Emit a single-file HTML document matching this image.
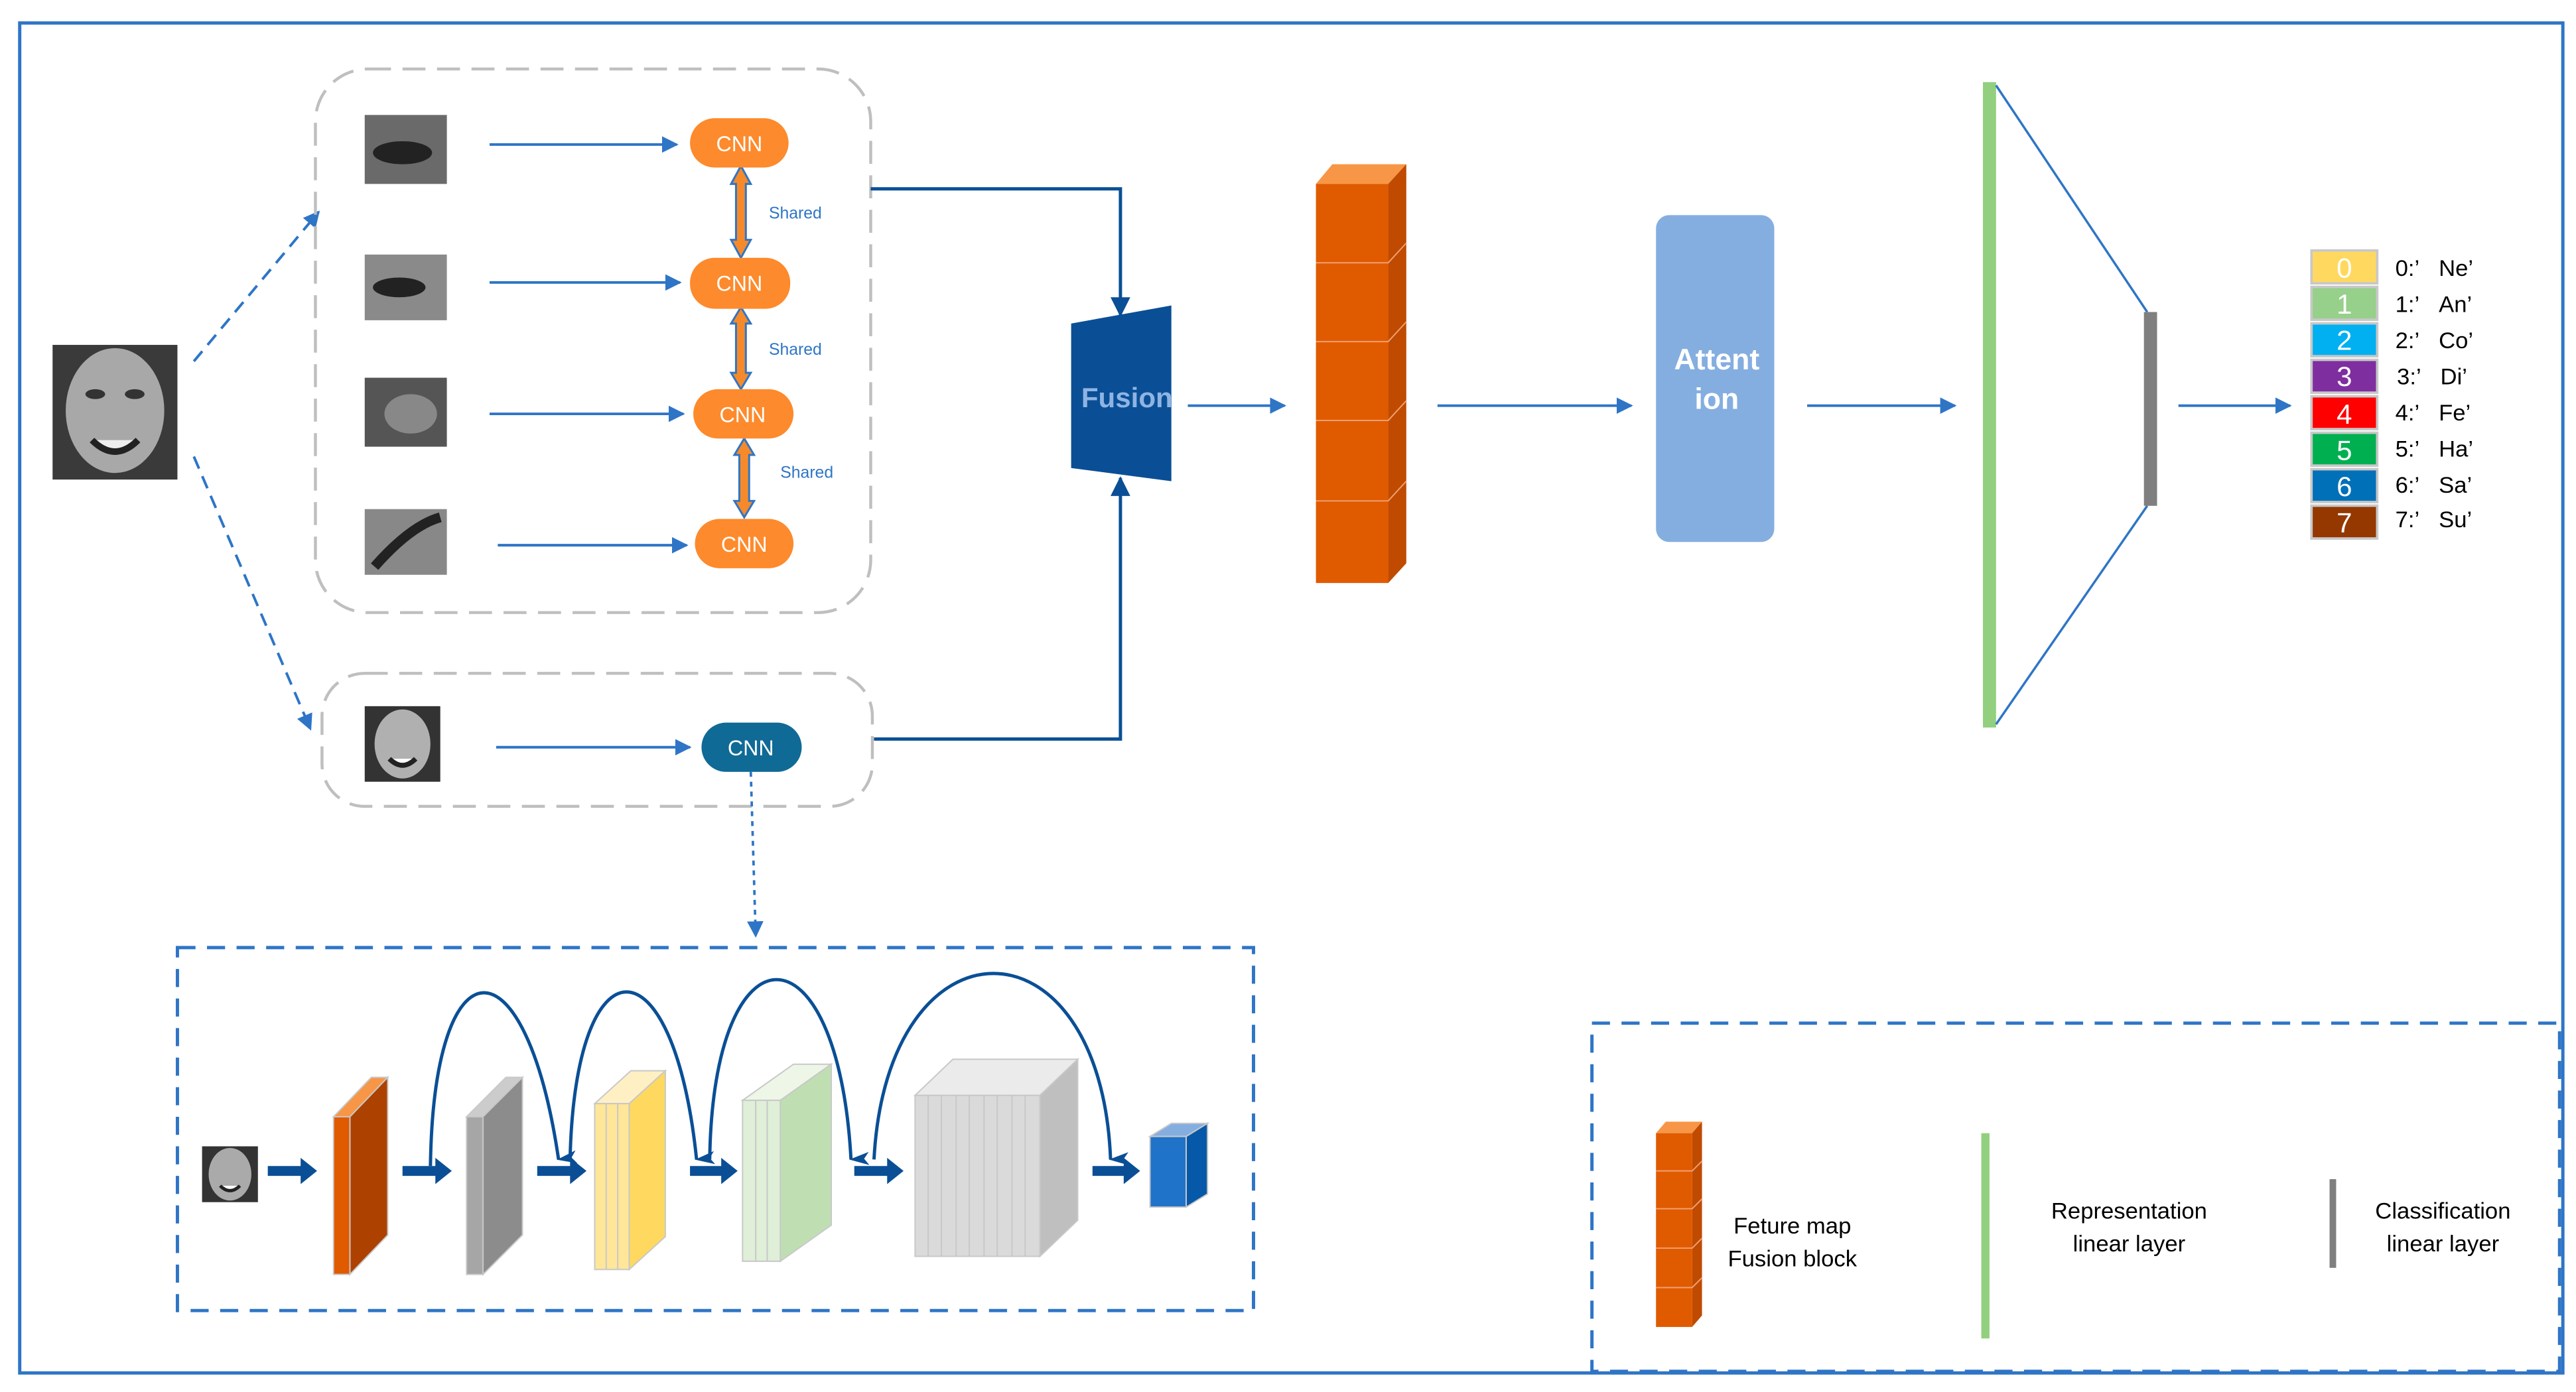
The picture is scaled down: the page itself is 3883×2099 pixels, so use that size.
<!DOCTYPE html>
<html><head><meta charset="utf-8"><style>html,body{margin:0;padding:0;background:#fff}svg{display:block}</style></head><body>
<svg width="3883" height="2099" viewBox="0 0 1568 847.6" preserveAspectRatio="none" xmlns="http://www.w3.org/2000/svg" font-family="Liberation Sans, sans-serif">
<defs>
<marker id="ah" markerWidth="10" markerHeight="10" refX="9" refY="5" orient="auto" markerUnits="userSpaceOnUse"><path d="M0,0 L10,5 L0,10 Z" fill="#2e75c6"/></marker>
<marker id="ah2" markerWidth="12" markerHeight="12" refX="11" refY="6" orient="auto" markerUnits="userSpaceOnUse"><path d="M0,0 L12,6 L0,12 Z" fill="#0a4f96"/></marker>
<marker id="ahd" markerWidth="8" markerHeight="12" refX="4" refY="11" orient="auto" markerUnits="userSpaceOnUse"><path d="M0,0 L4,12 L8,0 L4,3Z" fill="#0a4f96"/></marker>
</defs>
<rect x="12" y="14" width="1548" height="822" fill="none" stroke="#2e75c6" stroke-width="2"/>
<!-- face -->
<rect x="32" y="210" width="76" height="82" fill="#3a3a3a"/>
<ellipse cx="70" cy="250" rx="30" ry="38" fill="#a8a8a8"/>
<ellipse cx="58" cy="240" rx="6" ry="3" fill="#333"/><ellipse cx="82" cy="240" rx="6" ry="3" fill="#333"/>
<path d="M56,268 Q70,282 84,268" stroke="#222" stroke-width="4" fill="#eee"/>
<line x1="118" y1="220" x2="194" y2="129" stroke="#2e75c6" stroke-width="1.6" stroke-dasharray="8,5" marker-end="url(#ah)"/>
<line x1="118" y1="278" x2="189" y2="444" stroke="#2e75c6" stroke-width="1.6" stroke-dasharray="8,5" marker-end="url(#ah)"/>
<rect x="192" y="42" width="338" height="331" rx="32" fill="none" stroke="#bfbfbf" stroke-width="1.8" stroke-dasharray="14,7"/>
<rect x="196" y="410" width="335" height="81" rx="26" fill="none" stroke="#bfbfbf" stroke-width="1.8" stroke-dasharray="14,7"/>
<!-- patches -->
<rect x="222" y="70" width="50" height="42" fill="#6a6a6a"/><ellipse cx="245" cy="93" rx="18" ry="7" fill="#222"/>
<rect x="222" y="155" width="50" height="40" fill="#8a8a8a"/><ellipse cx="243" cy="175" rx="16" ry="6" fill="#222"/>
<rect x="222" y="230" width="50" height="42" fill="#555"/><ellipse cx="250" cy="252" rx="16" ry="12" fill="#888"/>
<rect x="222" y="310" width="50" height="40" fill="#888"/><path d="M228,345 Q250,320 268,315" stroke="#222" stroke-width="6" fill="none"/>
<rect x="222" y="430" width="46" height="46" fill="#333"/><ellipse cx="245" cy="453" rx="17" ry="21" fill="#b0b0b0"/><path d="M237,462 Q245,470 253,462" stroke="#222" stroke-width="3" fill="#fff"/>
<g stroke="#2e75c6" stroke-width="1.6" marker-end="url(#ah)">
<line x1="298" y1="88" x2="412" y2="88"/><line x1="298" y1="172" x2="414" y2="172"/><line x1="298" y1="252" x2="416" y2="252"/><line x1="303" y1="332" x2="418" y2="332"/><line x1="302" y1="455" x2="420" y2="455"/></g>
<!-- shared arrows -->
<g fill="#f68a2a" stroke="#2e75c6" stroke-width="1.2">
<path d="M445,112 L451,101 L457,112 L454,112 L454,146 L457,146 L451,157 L445,146 L448,146 L448,112Z"/>
<path d="M445,197 L451,187 L457,197 L454,197 L454,227 L457,227 L451,237 L445,227 L448,227 L448,197Z"/>
<path d="M447,277 L453,267 L459,277 L456,277 L456,305 L459,305 L453,315 L447,305 L450,305 L450,277Z"/></g>
<g font-size="10" fill="#2e75c6"><text x="468" y="133">Shared</text><text x="468" y="216">Shared</text><text x="475" y="291">Shared</text></g>
<g fill="#fd8a2c"><rect x="420" y="72" width="60" height="30" rx="15"/><rect x="420" y="157" width="61" height="31" rx="15"/><rect x="422" y="237" width="61" height="30" rx="15"/><rect x="423" y="316" width="60" height="30" rx="15"/></g>
<rect x="427" y="440" width="61" height="30" rx="15" fill="#0f6a96"/>
<g font-size="13" fill="#fff" text-anchor="middle"><text x="450" y="92">CNN</text><text x="450" y="177">CNN</text><text x="452" y="257">CNN</text><text x="453" y="336">CNN</text><text x="457" y="460">CNN</text></g>
<polyline points="530,115 682,115 682,192" fill="none" stroke="#0a4f96" stroke-width="2" marker-end="url(#ah2)"/>
<polyline points="532,450 682,450 682,291" fill="none" stroke="#0a4f96" stroke-width="2" marker-end="url(#ah2)"/>
<polygon points="652,197 713,186 713,293 652,285" fill="#0a4f96"/>
<text x="686" y="248" font-size="17" font-weight="bold" fill="#8fb4e3" text-anchor="middle">Fusion</text>
<g stroke="#2e75c6" stroke-width="1.6" marker-end="url(#ah)"><line x1="723" y1="247" x2="782" y2="247"/><line x1="875" y1="247" x2="993" y2="247"/><line x1="1100" y1="247" x2="1190" y2="247"/><line x1="1326" y1="247" x2="1394" y2="247"/></g>
<!-- orange block -->
<polygon points="801,112 811,100 856,100 845,112" fill="#f79646"/>
<polygon points="845,112 856,100 856,343 845,355" fill="#c04a00"/>
<rect x="801" y="112" width="44" height="243" fill="#e05a00"/>
<g stroke="#f0a070" stroke-width="0.8" fill="none"><polyline points="801,160 845,160 856,148"/><polyline points="801,208 845,208 856,196"/><polyline points="801,256 845,256 856,244"/><polyline points="801,305 845,305 856,293"/></g>
<rect x="1008" y="131" width="72" height="199" rx="8" fill="#85aee0"/>
<text x="1045" y="225" font-size="18" font-weight="bold" fill="#fff" text-anchor="middle">Attent</text>
<text x="1045" y="249" font-size="18" font-weight="bold" fill="#fff" text-anchor="middle">ion</text>
<rect x="1207" y="50" width="8" height="393" fill="#92d07f"/>
<line x1="1215" y1="52" x2="1307" y2="190" stroke="#2e75c6" stroke-width="1.4"/>
<line x1="1215" y1="441" x2="1307" y2="308" stroke="#2e75c6" stroke-width="1.4"/>
<rect x="1305" y="190" width="8" height="118" fill="#7f7f7f"/>
<!-- legend classes -->
<g stroke="#c8c8c8" stroke-width="1.5">
<rect x="1407" y="152.5" width="40" height="20" fill="#ffd95f"/><rect x="1407" y="174.7" width="40" height="20" fill="#96d08a"/><rect x="1407" y="196.9" width="40" height="20" fill="#00b0f0"/><rect x="1407" y="219.1" width="40" height="20" fill="#7f2ea0"/><rect x="1407" y="241.3" width="40" height="20" fill="#ff0000"/><rect x="1407" y="263.5" width="40" height="20" fill="#00b050"/><rect x="1407" y="285.7" width="40" height="20" fill="#0070b8"/><rect x="1407" y="307.9" width="40" height="20" fill="#943800"/></g>
<g font-size="17" fill="#fff" text-anchor="middle"><text x="1427" y="169">0</text><text x="1427" y="191">1</text><text x="1427" y="213">2</text><text x="1427" y="235">3</text><text x="1427" y="258">4</text><text x="1427" y="280">5</text><text x="1427" y="302">6</text><text x="1427" y="324">7</text></g>
<g font-size="14" fill="#000"><text x="1458" y="168">0:’&#160;&#160;&#160;Ne’</text><text x="1458" y="190">1:’&#160;&#160;&#160;An’</text><text x="1458" y="212">2:’&#160;&#160;&#160;Co’</text><text x="1459" y="234">3:’&#160;&#160;&#160;Di’</text><text x="1458" y="256">4:’&#160;&#160;&#160;Fe’</text><text x="1458" y="278">5:’&#160;&#160;&#160;Ha’</text><text x="1458" y="300">6:’&#160;&#160;&#160;Sa’</text><text x="1458" y="321">7:’&#160;&#160;&#160;Su’</text></g>
<!-- bottom CNN detail -->
<line x1="457" y1="470" x2="460" y2="570" stroke="#2e75c6" stroke-width="1.5" stroke-dasharray="3,3" marker-end="url(#ah)"/>
<rect x="108" y="577" width="655" height="221" fill="none" stroke="#2e75c6" stroke-width="2" stroke-dasharray="11,7"/>
<rect x="123" y="698" width="34" height="34" fill="#333"/><ellipse cx="140" cy="715" rx="13" ry="16" fill="#aaa"/><path d="M134,722 Q140,728 146,722" stroke="#222" stroke-width="2" fill="#fff"/>
<g stroke="#c8c8c8" stroke-width="0.8">
<polygon points="203,680 213,680 236,656 226,656" fill="#f79646"/><polygon points="213,680 236,656 236,752 213,776" fill="#ad4100"/><rect x="203" y="680" width="10" height="96" fill="#e05a00"/>
<polygon points="284,680 294,680 318,656 308,656" fill="#cccccc"/><polygon points="294,680 318,656 318,752 294,776" fill="#8c8c8c"/><rect x="284" y="680" width="10" height="96" fill="#a6a6a6"/>
<polygon points="362,672 383,672 405,652 384,652" fill="#fff0c4"/><polygon points="383,672 405,652 405,753 383,773" fill="#ffd85f"/><rect x="362" y="672" width="21" height="101" fill="#ffe699"/><line x1="369" y1="672" x2="369" y2="773"/><line x1="376" y1="672" x2="376" y2="773"/>
<polygon points="452,670 475,670 506,648 483,648" fill="#eef6e8"/><polygon points="475,670 506,648 506,746 475,768" fill="#bfdfb3"/><rect x="452" y="670" width="23" height="98" fill="#dfefd8"/><line x1="460" y1="670" x2="460" y2="768"/><line x1="467" y1="670" x2="467" y2="768"/>
<polygon points="557,667 633,667 656,645 580,645" fill="#ebebeb"/><polygon points="633,667 656,645 656,743 633,765" fill="#bfbfbf"/><rect x="557" y="667" width="76" height="98" fill="#dadada"/>
<polygon points="700,692 722,692 735,684 713,684" fill="#85aee0"/><polygon points="722,692 735,684 735,727 722,735" fill="#0659a8"/><rect x="700" y="692" width="22" height="43" fill="#1f73c9"/></g>
<g stroke="#c8c8c8" stroke-width="0.8"><line x1="565" y1="667" x2="565" y2="765"/><line x1="573" y1="667" x2="573" y2="765"/><line x1="582" y1="667" x2="582" y2="765"/><line x1="590" y1="667" x2="590" y2="765"/><line x1="599" y1="667" x2="599" y2="765"/><line x1="607" y1="667" x2="607" y2="765"/><line x1="616" y1="667" x2="616" y2="765"/><line x1="624" y1="667" x2="624" y2="765"/></g>
<g fill="#0a4f96"><path d="M163,710 h20 v-5 l10,8 l-10,8 v-5 h-20z"/><path d="M245,710 h20 v-5 l10,8 l-10,8 v-5 h-20z"/><path d="M327,710 h20 v-5 l10,8 l-10,8 v-5 h-20z"/><path d="M420,710 h19 v-5 l10,8 l-10,8 v-5 h-19z"/><path d="M520,710 h20 v-5 l10,8 l-10,8 v-5 h-20z"/><path d="M665,710 h19 v-5 l10,8 l-10,8 v-5 h-19z"/></g>
<g fill="none" stroke="#0a4f96" stroke-width="2" marker-end="url(#ahd)">
<path d="M262,710 C264,570 320,570 340,706"/><path d="M347,706 C350,570 410,570 424,706"/><path d="M432,706 C434,560 510,560 518,706"/><path d="M532,706 C540,555 670,555 676,706"/></g>
<!-- legend box -->
<rect x="969" y="623" width="589" height="212" fill="none" stroke="#2e75c6" stroke-width="2" stroke-dasharray="11,7"/>
<polygon points="1008,690 1030,690 1036,683 1014,683" fill="#f79646"/><polygon points="1030,690 1036,683 1036,801 1030,808" fill="#c04a00"/><rect x="1008" y="690" width="22" height="118" fill="#e05a00"/>
<g stroke="#f0a070" stroke-width="0.8" fill="none"><polyline points="1008,713 1030,713 1036,707"/><polyline points="1008,736 1030,736 1036,730"/><polyline points="1008,760 1030,760 1036,754"/><polyline points="1008,784 1030,784 1036,778"/></g>
<rect x="1206" y="690" width="5" height="125" fill="#92d07f"/>
<rect x="1418" y="718" width="4" height="54" fill="#7f7f7f"/>
<g font-size="14" fill="#000" text-anchor="middle"><text x="1091" y="751">Feture map</text><text x="1091" y="771">Fusion block</text><text x="1296" y="742">Representation</text><text x="1296" y="762">linear layer</text><text x="1487" y="742">Classification</text><text x="1487" y="762">linear layer</text></g>
</svg>
</body></html>
